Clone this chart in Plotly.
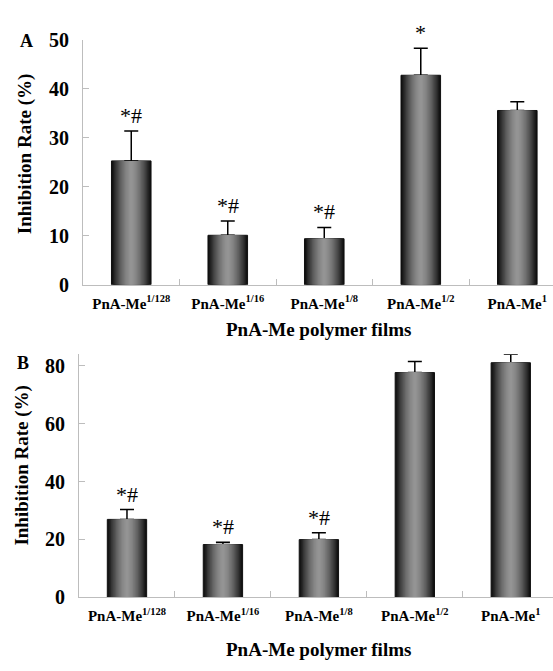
import plotly.graph_objects as go

categories = ["PnA-Me<sup>1/128</sup>", "PnA-Me<sup>1/16</sup>", "PnA-Me<sup>1/8</sup>",
              "PnA-Me<sup>1/2</sup>", "PnA-Me<sup>1</sup>"]
values_a = [25.3, 10.1, 9.4, 42.8, 35.6]
errors_a = [6.1, 2.9, 2.3, 5.5, 1.8]
marks_a = ["*#", "*#", "*#", "*", ""]
values_b = [26.9, 18.2, 19.9, 77.7, 81.1]
errors_b = [3.4, 0.8, 2.4, 3.8, 2.9]
marks_b = ["*#", "*#", "*#", "", ""]

W, H = 553, 671
SERIF = "Liberation Serif, Times New Roman, serif"
fig = go.Figure()

N = 16
BARW = 0.41


def add_panel(vals, errs, marks, xa, ya):
    for k in range(N):
        r = 1 - k / N
        g = int(150 - 135 * r ** 1.6)
        col = f"rgb({g},{g},{g})"
        fig.add_trace(go.Bar(
            x=categories, y=vals, width=BARW * r, xaxis=xa, yaxis=ya,
            marker=dict(color=col, line=dict(width=1 if k == 0 else 0, color="#111")),
            error_y=dict(type="data", array=errs, arrayminus=[0] * len(errs), symmetric=False,
                         color="black", thickness=1.5, width=7, visible=(k == 0)),
            showlegend=False, hoverinfo="skip"))
    for c, v, e, m in zip(categories, vals, errs, marks):
        if m:
            fig.add_annotation(x=c, y=v + e, xref=xa, yref=ya, text=m, showarrow=False,
                               yanchor="bottom", yshift=1,
                               font=dict(family=SERIF, size=22, color="black"))


add_panel(values_a, errors_a, marks_a, "x", "y")
add_panel(values_b, errors_b, marks_b, "x2", "y2")

axcol = "#bdbdbd"
xcommon = dict(type="category", showline=True, linecolor=axcol, linewidth=1, ticks="inside",
               tickson="boundaries", ticklen=6, tickcolor=axcol, showgrid=False,
               ticklabelstandoff=5,
               tickfont=dict(family=SERIF, size=15, color="black", weight="bold"))
ycommon = dict(showline=True, linecolor=axcol, linewidth=1, ticks="inside", ticklen=6,
               tickcolor=axcol, showgrid=False, zeroline=False, ticklabelstandoff=9,
               tickfont=dict(family=SERIF, size=20, color="black", weight="bold"))

fig.update_layout(
    width=W, height=H, margin=dict(l=0, r=0, t=0, b=0),
    plot_bgcolor="white", paper_bgcolor="white", barmode="overlay",
    xaxis=dict(domain=[83 / W, 1], range=[-0.5, 4.37], anchor="y", **xcommon),
    yaxis=dict(domain=[1 - 283 / H, 1 - 30 / H], range=[0, 50], dtick=10, anchor="x", **ycommon),
    xaxis2=dict(domain=[79 / W, 1], range=[-0.5, 4.44], anchor="y2", **xcommon),
    yaxis2=dict(domain=[1 - 606 / H, 1 - 355 / H], range=[0, 84], dtick=20, anchor="x2", **ycommon),
)

tfont = dict(family=SERIF, size=19, color="black", weight="bold")


def note(x, y, text, font, angle=0):
    fig.add_annotation(x=x / W, y=1 - y / H, xref="paper", yref="paper", text=text,
                       textangle=angle, showarrow=False, xanchor="center", yanchor="middle",
                       font=font)


lbl = dict(family=SERIF, size=18, color="black", weight="bold")
note(26, 31, "A", lbl)
note(22.5, 364, "B", lbl)
note(25, 148, "Inhibition Rate (%)", tfont, -90)
note(22, 470, "Inhibition Rate (%)", tfont, -90)
note(318, 329, "PnA-Me polymer films", tfont)
note(318, 660, "PnA-Me polymer films", tfont)

fig.write_html("out.html")
